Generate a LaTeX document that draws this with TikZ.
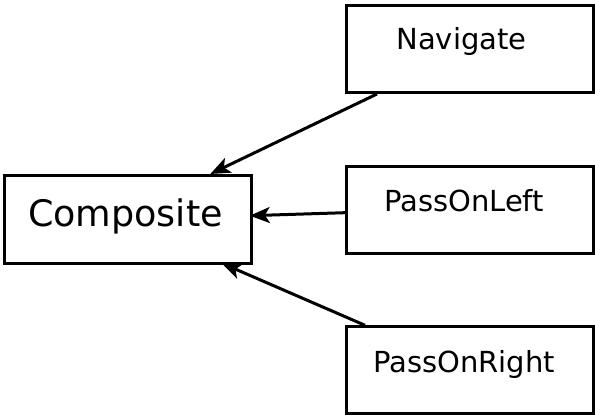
\documentclass[tikz,border=0pt]{standalone}
\usepackage{fontspec}
\setmainfont{DejaVu Sans}
\usetikzlibrary{arrows.meta,calc}
\tikzset{
  box/.style={draw, line width=3pt, minimum width=247pt, minimum height=87pt, inner sep=0pt},
  bigtext/.style={font=\fontsize{36.5}{42}\selectfont, inner sep=0pt, text height=26.6pt, text depth=0pt},
  smalltext/.style={font=\fontsize{29}{33}\selectfont, inner sep=0pt, text height=21.1pt, text depth=0pt},
  arr/.style={line width=3pt, -{Stealth[length=20pt, width=16pt, inset=5pt]}}
}
\begin{document}
\begin{tikzpicture}[x=1pt,y=1pt]
\useasboundingbox (0,0) rectangle (595,417);
\node[box, minimum height=88pt] (comp) at (128.3,197.5) {};
\node[box] (nav) at (470,368) {};
\node[box] (pol) at (470,206.5) {};
\node[box] (por) at (470,46.7) {};
\node[bigtext] (compt) at ($(comp.center)+(-2.8,6.1)$) {Composite};
\node[smalltext] (navt) at ($(nav.center)+(-8.5,9.7)$) {Navigate};
\node[smalltext] (polt) at ($(pol.center)+(-6,10)$) {PassOnLeft};
\node[smalltext] (port) at ($(por.center)+(-6,8.3)$) {PassOnRight};
\draw[arr] ($(nav.south)+(-93,0)$) -- ($(comp.north)+(82,0)$);
\draw[arr] ($(pol.west)+(0,-2.2)$) -- ($(comp.east)+(-3.5,3.8)$);
\draw[arr] ($(por.north)+(-105,0)$) -- ($(comp.south)+(93.4,1.8)$);
\end{tikzpicture}
\end{document}
